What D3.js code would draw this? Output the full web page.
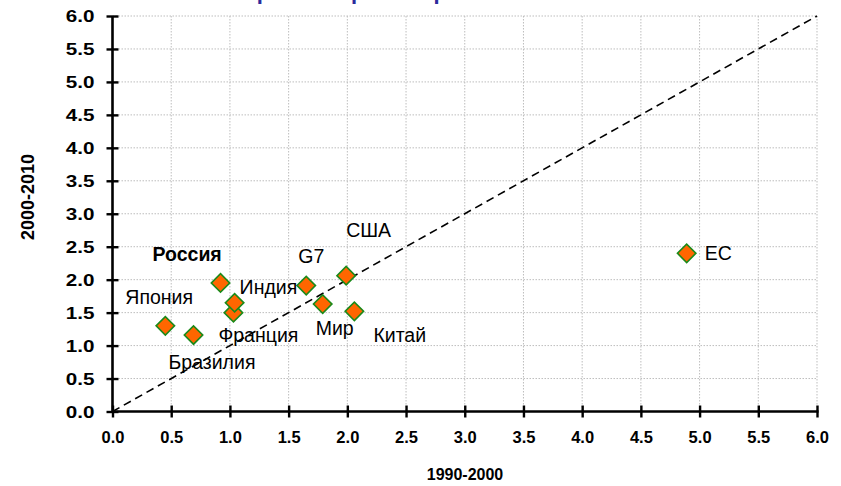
<!DOCTYPE html>
<html>
<head>
<meta charset="utf-8">
<script src="https://cdn.jsdelivr.net/npm/d3@7"></script>
<style>
  html, body { margin: 0; padding: 0; background: #ffffff; }
  svg { display: block; font-family: "Liberation Sans", Arial, sans-serif; }
</style>
</head>
<body>
<svg id="chart" width="841" height="486"></svg>
<script>
// Growth rates: 1990-2000 (x) vs 2000-2010 (y)
const countries = ["Япония", "Бразилия", "Россия", "Франция", "Индия", "G7", "США", "Мир", "Китай", "ЕС"];
const rate1990s = [0.45, 0.69, 0.92, 1.03, 1.04, 1.65, 1.99, 1.79, 2.06, 4.89];
const rate2000s = [1.30, 1.16, 1.95, 1.50, 1.65, 1.91, 2.06, 1.63, 1.52, 2.40];
const xTicks = [0, 0.5, 1, 1.5, 2, 2.5, 3, 3.5, 4, 4.5, 5, 5.5, 6];
const yTicks = [0, 0.5, 1, 1.5, 2, 2.5, 3, 3.5, 4, 4.5, 5, 5.5, 6];
const xTitle = "1990-2000";
const yTitle = "2000-2010";
const chartTitle = "Неравномерность роста";
const highlighted = "Россия";

// label placement relative to each marker (pixels: left edge, baseline)
const labelOffset = {
  "Япония":   [-40, -22],
  "Бразилия": [-25, 34],
  "Россия":   [-68, -22],
  "Франция":  [-15, 29],
  "Индия":    [5, -9],
  "G7":       [-8, -23],
  "США":      [0, -39],
  "Мир":      [-7, 31],
  "Китай":    [19, 31],
  "ЕС":       [18, 7]
};

const points = countries.map((c, i) => ({ name: c, x: rate1990s[i], y: rate2000s[i] }));

const svg = d3.select("#chart");
const x = d3.scaleLinear().domain([0, 6]).range([112.5, 817]);
const y = d3.scaleLinear().domain([0, 6]).range([411.5, 16]);

// title (sits above the top edge)
svg.append("text")
  .attr("x", 362).attr("y", -1.5)
  .attr("text-anchor", "middle")
  .attr("font-size", 22).attr("font-weight", "bold")
  .attr("fill", "#2b2b9c")
  .text(chartTitle);

// dotted grid
const grid = svg.append("g").attr("stroke", "#bdbdbd").attr("stroke-width", 1)
  .attr("stroke-dasharray", "1.5,1.5");
grid.selectAll("line.v").data(xTicks.filter(d => d > 0)).join("line")
  .attr("x1", d => x(d)).attr("x2", d => x(d))
  .attr("y1", y(6)).attr("y2", y(0));
grid.selectAll("line.h").data(yTicks.filter(d => d > 0)).join("line")
  .attr("x1", x(0)).attr("x2", x(6))
  .attr("y1", d => y(d)).attr("y2", d => y(d));

// y = x reference line
svg.append("line")
  .attr("x1", x(0)).attr("y1", y(0))
  .attr("x2", x(6)).attr("y2", y(6))
  .attr("stroke", "#000").attr("stroke-width", 1.6)
  .attr("stroke-dasharray", "8,5");

// axes
const fmt = d3.format(".1f");
const xAxis = svg.append("g").attr("transform", `translate(0,${y(0)})`)
  .call(d3.axisBottom(x).tickValues(xTicks).tickFormat(fmt).tickSize(6).tickPadding(0));
xAxis.select(".domain").attr("d", `M${x(0)},0H${x(6) + 1.5}`)
  .attr("stroke", "#000").attr("stroke-width", 2.6);
xAxis.selectAll(".tick line").attr("y1", -6).attr("y2", 6)
  .attr("stroke", "#000").attr("stroke-width", 2.4);
xAxis.selectAll(".tick text")
  .attr("y", 31.5).attr("dy", 0)
  .attr("font-size", 16.5).attr("font-weight", "bold")
  .attr("font-family", "'Liberation Sans', Arial, sans-serif")
  .attr("fill", "#000");

const yAxis = svg.append("g").attr("transform", `translate(${x(0)},0)`)
  .call(d3.axisLeft(y).tickValues(yTicks).tickFormat(fmt).tickSize(6).tickPadding(0));
yAxis.select(".domain").attr("d", `M0,${y(0) + 1.3}V${y(6)}`)
  .attr("stroke", "#000").attr("stroke-width", 2.6);
yAxis.selectAll(".tick line").attr("x1", -6).attr("x2", 6)
  .attr("stroke", "#000").attr("stroke-width", 2.4);
yAxis.selectAll(".tick text")
  .attr("x", -12).attr("dy", "0.36em")
  .attr("font-size", 16.5).attr("font-weight", "bold")
  .attr("font-family", "'Liberation Sans', Arial, sans-serif")
  .attr("fill", "#000")
  .attr("transform", "translate(-3,0) scale(1.25,1)");

// axis titles
svg.append("text")
  .attr("x", 465).attr("y", 480)
  .attr("text-anchor", "middle")
  .attr("font-size", 16).attr("font-weight", "bold")
  .text(xTitle);
svg.append("text")
  .attr("transform", `translate(34,197) rotate(-90)`)
  .attr("text-anchor", "middle")
  .attr("font-size", 18).attr("font-weight", "bold")
  .text(yTitle);

// markers
const diamond = d3.symbol().type(d3.symbolSquare).size(170);
svg.append("g").selectAll("path").data(points).join("path")
  .attr("d", diamond)
  .attr("transform", d => `translate(${x(d.x)},${y(d.y)}) rotate(45)`)
  .attr("fill", "#ff6600")
  .attr("stroke", "#1a8a1a")
  .attr("stroke-width", 1.6);

// labels
svg.append("g").selectAll("text").data(points).join("text")
  .attr("x", d => x(d.x) + labelOffset[d.name][0])
  .attr("y", d => y(d.y) + labelOffset[d.name][1])
  .attr("font-size", 19.5)
  .attr("font-weight", d => d.name === highlighted ? "bold" : "normal")
  .attr("fill", "#000")
  .text(d => d.name);
</script>
</body>
</html>
